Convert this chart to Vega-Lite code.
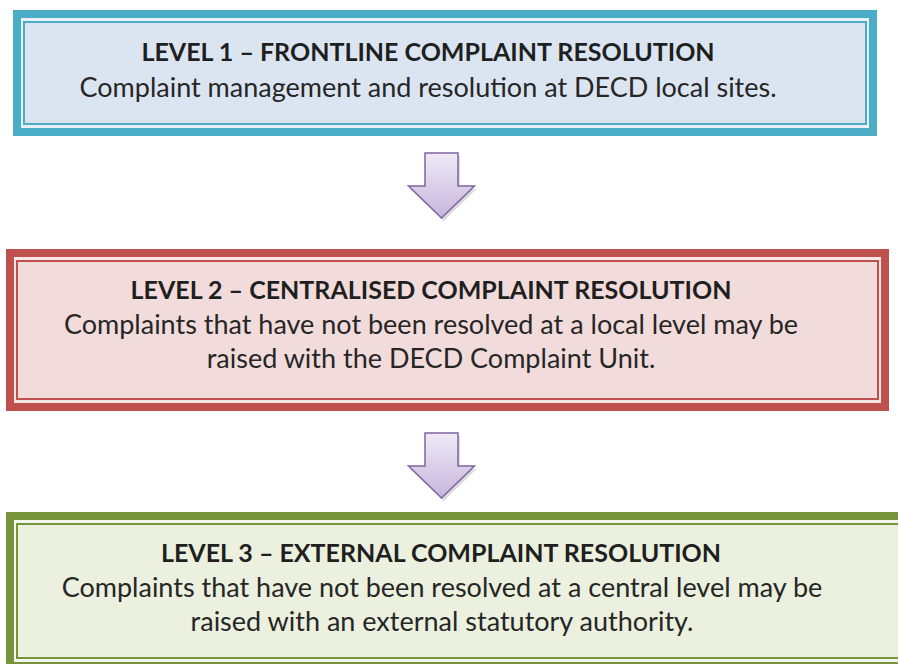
{
  "$schema": "https://vega.github.io/schema/vega-lite/v6.json",
  "width": 898,
  "height": 664,
  "autosize": "none",
  "padding": 0,
  "background": "white",
  "config": {"view": {"stroke": null}},
  "datasets": {
    "boxes": [
      {"level": 1, "x": 13, "x2": 877, "y": 10, "y2": 136, "border": "#4bacc6", "gap": "#e9f0f8", "inner": "#dbe5f1"},
      {"level": 2, "x": 6, "x2": 889, "y": 249, "y2": 411, "border": "#c0504d", "gap": "#f7e6e6", "inner": "#f2dcdb"},
      {"level": 3, "x": 6, "x2": 915, "y": 512, "y2": 670, "border": "#77933c", "gap": "#f3f6ec", "inner": "#ebf1de"}
    ],
    "arrows": [
      {"step": "1 to 2", "x": 441.5, "y": 185.5},
      {"step": "2 to 3", "x": 441.5, "y": 465.5}
    ],
    "titles": [
      {"level": 1, "x": 428, "y": 61, "text": "LEVEL 1 – FRONTLINE COMPLAINT RESOLUTION"},
      {"level": 2, "x": 431, "y": 299, "text": "LEVEL 2 – CENTRALISED COMPLAINT RESOLUTION"},
      {"level": 3, "x": 441, "y": 562, "text": "LEVEL 3 – EXTERNAL COMPLAINT RESOLUTION"}
    ],
    "body": [
      {"level": 1, "x": 428, "y": 97, "text": "Complaint management and resolution at DECD local sites."},
      {"level": 2, "x": 431, "y": 334, "text": "Complaints that have not been resolved at a local level may be"},
      {"level": 2, "x": 431, "y": 368, "text": "raised with the DECD Complaint Unit."},
      {"level": 3, "x": 442, "y": 597, "text": "Complaints that have not been resolved at a central level may be"},
      {"level": 3, "x": 442, "y": 631, "text": "raised with an external statutory authority."}
    ]
  },
  "layer": [
    {
      "data": {"name": "boxes"},
      "mark": {"type": "rect"},
      "encoding": {
        "x": {"field": "x", "type": "quantitative", "scale": {"domain": [0, 898], "nice": false, "zero": false}, "axis": null},
        "x2": {"field": "x2"},
        "y": {"field": "y", "type": "quantitative", "scale": {"domain": [0, 664], "nice": false, "zero": false, "reverse": true}, "axis": null},
        "y2": {"field": "y2"},
        "fill": {"field": "border", "type": "nominal", "scale": null, "legend": null}
      }
    },
    {
      "data": {"name": "boxes"},
      "mark": {"type": "rect", "xOffset": 8, "x2Offset": -8, "yOffset": 8, "y2Offset": -8},
      "encoding": {
        "x": {"field": "x", "type": "quantitative", "axis": null},
        "x2": {"field": "x2"},
        "y": {"field": "y", "type": "quantitative", "axis": null},
        "y2": {"field": "y2"},
        "fill": {"field": "gap", "type": "nominal", "scale": null, "legend": null}
      }
    },
    {
      "data": {"name": "boxes"},
      "mark": {"type": "rect", "strokeWidth": 2, "xOffset": 11, "x2Offset": -11, "yOffset": 12, "y2Offset": -12},
      "encoding": {
        "x": {"field": "x", "type": "quantitative", "axis": null},
        "x2": {"field": "x2"},
        "y": {"field": "y", "type": "quantitative", "axis": null},
        "y2": {"field": "y2"},
        "fill": {"field": "inner", "type": "nominal", "scale": null, "legend": null},
        "stroke": {"field": "border", "type": "nominal", "scale": null, "legend": null}
      }
    },
    {
      "data": {"name": "arrows"},
      "mark": {"type": "point", "filled": true, "shape": "M-0.5,-0.985L0.5,-0.985L0.5,0.015L1,0.015L0,0.985L-1,0.015L-0.5,0.015Z", "size": 4356, "fill": "#999999", "opacity": 0.35, "xOffset": 2, "yOffset": 3},
      "encoding": {
        "x": {"field": "x", "type": "quantitative", "axis": null},
        "y": {"field": "y", "type": "quantitative", "axis": null}
      }
    },
    {
      "data": {"name": "arrows"},
      "mark": {"type": "point", "filled": true, "shape": "M-0.5,-0.985L0.5,-0.985L0.5,0.015L1,0.015L0,0.985L-1,0.015L-0.5,0.015Z", "size": 4356, "opacity": 1, "stroke": "#8064a2", "strokeWidth": 1.5,
        "fill": {"gradient": "linear", "x1": 0, "y1": 0, "x2": 0, "y2": 1, "stops": [{"offset": 0, "color": "#efeaf6"}, {"offset": 1, "color": "#c6b6dd"}]}},
      "encoding": {
        "x": {"field": "x", "type": "quantitative", "axis": null},
        "y": {"field": "y", "type": "quantitative", "axis": null}
      }
    },
    {
      "data": {"name": "titles"},
      "mark": {"type": "text", "font": "Lato", "fontWeight": "bold", "fontSize": 25, "align": "center", "baseline": "alphabetic", "color": "#1f1f1f"},
      "encoding": {
        "x": {"field": "x", "type": "quantitative", "axis": null},
        "y": {"field": "y", "type": "quantitative", "axis": null},
        "text": {"field": "text", "type": "nominal"}
      }
    },
    {
      "data": {"name": "body"},
      "mark": {"type": "text", "font": "Lato", "fontSize": 27, "align": "center", "baseline": "alphabetic", "color": "#262626"},
      "encoding": {
        "x": {"field": "x", "type": "quantitative", "axis": null},
        "y": {"field": "y", "type": "quantitative", "axis": null},
        "text": {"field": "text", "type": "nominal"}
      }
    }
  ]
}
